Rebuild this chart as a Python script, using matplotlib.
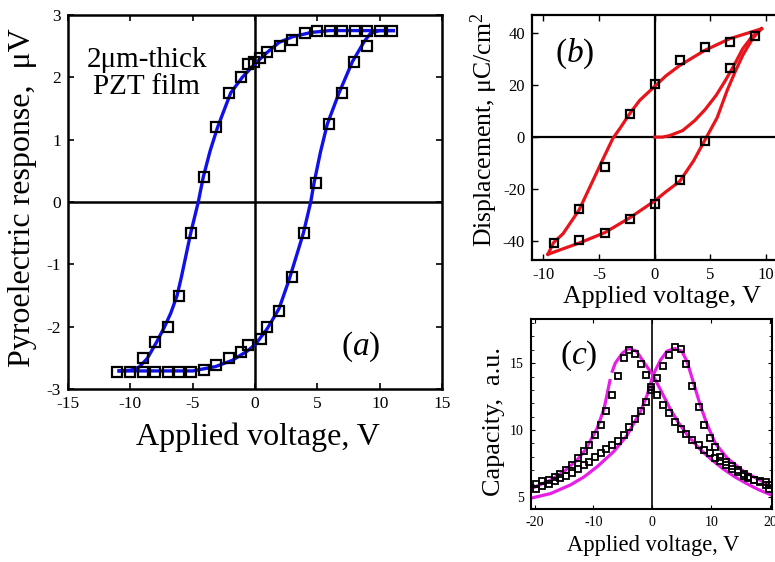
import numpy as np
import matplotlib
matplotlib.use("Agg")
import matplotlib.pyplot as plt
from matplotlib.ticker import MultipleLocator

plt.rcParams['font.family'] = ['Liberation Serif', 'DejaVu Serif']
plt.rcParams['mathtext.fontset'] = 'custom'
plt.rcParams['mathtext.rm'] = 'Liberation Serif'
plt.rcParams['mathtext.it'] = 'Liberation Serif:italic'
plt.rcParams['axes.unicode_minus'] = False

# ---- (a) pyroelectric loop ----
a_up_x = [11.0, 10.0, 9.0, 8.0, 7.0, 6.0, 5.0, 4.0, 3.0, 2.0, 1.0, 0.4, -0.1, -0.6,
          -1.1, -2.1, -3.1, -4.1, -5.1, -6.1, -7.0, -8.0, -9.0]
a_up_y = [2.74, 2.74, 2.74, 2.74, 2.74, 2.74, 2.74, 2.71, 2.60, 2.50, 2.40, 2.31, 2.25, 2.21,
          2.00, 1.75, 1.20, 0.40, -0.50, -1.50, -2.00, -2.25, -2.51]
a_dn_x = [-11.1, -10.0, -9.0, -8.0, -7.0, -6.1, -5.1, -4.1, -3.1, -2.1, -1.1, -0.6, 0.45,
          0.95, 1.95, 2.95, 3.95, 4.9, 5.95, 6.95, 7.95, 8.95]
a_dn_y = [-2.73, -2.73, -2.73, -2.73, -2.73, -2.73, -2.73, -2.69, -2.61, -2.51, -2.40, -2.30,
          -2.20, -2.00, -1.75, -1.20, -0.50, 0.30, 1.25, 1.75, 2.25, 2.50]
a_fit_up_x = [11.1, 8.0, 6.0, 4.5, 3.0, 1.93, 0.86, -0.08, -1.02, -1.95, -3.0, -3.6, -4.15,
              -4.55, -5.16, -5.9, -6.25, -6.75, -7.25, -7.9, -8.64, -9.3, -10.0, -10.9]
a_fit_up_y = [2.75, 2.75, 2.75, 2.72, 2.65, 2.56, 2.38, 2.20, 2.00, 1.75, 1.20, 0.82, 0.40,
              0.0, -0.50, -1.20, -1.50, -1.78, -2.00, -2.25, -2.51, -2.65, -2.70, -2.71]
a_fit_dn_x = [-10.9, -8.0, -5.0, -3.16, -1.82, -0.61, 0.05, 0.99, 1.93, 2.73, 3.3, 3.88,
              4.47, 4.73, 5.25, 5.8, 6.74, 7.81, 8.75, 9.28, 10.0, 11.1]
a_fit_dn_y = [-2.71, -2.71, -2.71, -2.64, -2.54, -2.39, -2.28, -2.03, -1.71, -1.25, -0.88,
              -0.50, 0.0, 0.30, 0.80, 1.25, 1.75, 2.25, 2.57, 2.71, 2.75, 2.75]

# ---- (b) D-E loop ----
b_up_x = [9.0, 6.75, 4.5, 2.25, 0.0, -2.25, -4.5, -6.75, -9.0]
b_up_y = [38.8, 36.5, 34.6, 29.7, 20.5, 8.7, -11.3, -27.5, -40.6]
b_dn_x = [-6.75, -4.5, -2.25, 0.0, 2.25, 4.5, 6.75]
b_dn_y = [-39.4, -36.7, -31.3, -25.6, -16.6, -1.5, 26.5]
b_fit_top_x = [9.57, 8.0, 6.73, 4.48, 2.24, 1.0, 0.0, -1.35, -2.24, -3.14, -3.74, -4.48,
               -5.53, -6.78, -8.22, -9.06, -9.57]
b_fit_top_y = [41.6, 39.5, 37.8, 33.3, 27.5, 23.5, 19.5, 14.1, 9.0, 3.2, -0.4, -7.0,
               -16.6, -28.0, -37.1, -40.5, -45.0]
b_fit_bot_x = [-9.57, -8.22, -6.78, -4.48, -2.24, 0.0, 1.0, 2.24, 3.5, 4.48, 5.6, 6.5,
               7.2, 7.9, 8.8, 9.57]
b_fit_bot_y = [-45.0, -42.9, -40.7, -36.7, -31.0, -24.5, -21.0, -17.0, -9.0, -1.3, 7.5, 18.0,
               25.0, 31.5, 38.0, 41.6]
b_init_x = [0.0, 0.7, 1.35, 2.5, 3.6, 4.5, 5.5, 6.3, 7.1, 7.9, 8.7, 9.57]
b_init_y = [0.0, 0.0, 0.6, 2.5, 6.4, 10.5, 16.0, 21.5, 27.5, 34.0, 38.5, 41.6]

# ---- (c) C-V butterfly ----
c_v = [-19.7, -18.7, -17.6, -16.6, -15.6, -14.6, -13.6, -12.6, -11.6, -10.7, -9.8, -8.8,
       -7.8, -6.8, -5.9, -4.9, -4.0, -2.9, -2.0, -1.0, -0.2, 0.8, 1.8, 2.8, 3.8, 4.8, 5.7,
       6.8, 7.9, 8.7, 9.8, 10.7, 11.5, 12.5, 13.5, 14.5, 15.5, 16.3, 17.3, 18.3, 19.2, 19.8]
c_down = [6.0, 6.2, 6.3, 6.5, 6.75, 7.0, 7.4, 7.9, 8.4, 8.9, 9.6, 10.4,
          11.4, 12.6, 14.05, 15.4, 16.0, 15.7, 14.9, 14.1, 13.25, 12.6, 11.9, 11.25, 10.6,
          10.1, 9.7, 9.25, 8.9, 8.5, 8.25, 7.9, 7.7, 7.4, 7.1, 6.9, 6.6, 6.4, 6.25, 6.1, 5.9, 5.6]
c_up = [5.6, 5.8, 6.0, 6.2, 6.4, 6.6, 6.8, 7.1, 7.4, 7.6, 7.95, 8.25,
        8.55, 8.9, 9.2, 9.6, 10.2, 10.8, 11.4, 12.1, 13.0, 13.9, 14.8, 15.6, 16.2,
        16.05, 14.9, 13.3, 11.75, 10.4, 9.4, 8.7, 8.0, 7.6, 7.3, 7.0, 6.75, 6.5, 6.3, 6.2, 6.1, 5.9]
c_fit1_x = [-20.7, -17.3, -15.0, -12.8, -11.4, -9.4, -8.2, -7.2, np.nan, -6.8, -6.3, -5.1,
            -4.0, -2.7, -1.5, 0.1, 1.5, 3.0, 4.5, 6.0, 8.0, 10.0, 12.0, 14.0, 16.0, 18.0, 20.7]
c_fit1_y = [5.6, 6.25, 6.9, 7.75, 8.5, 10.1, 11.6, 13.7, np.nan, 14.4, 15.0, 15.75,
            16.1, 15.9, 15.1, 14.1, 12.9, 11.6, 10.5, 9.6, 8.6, 7.8, 7.1, 6.5, 6.0, 5.55, 5.05]
c_fit2_x = [-20.7, -17.3, -13.9, -11.6, -9.4, -6.55, -4.3, -2.0, -0.9, 0.1, 1.4, 2.5, 3.8,
            5.0, 5.9, 7.0, 8.1, 9.3, 10.7, 12.7, 15.5, 18.9, 20.6]
c_fit2_y = [4.9, 5.25, 5.9, 6.5, 7.25, 8.4, 9.6, 11.4, 12.6, 14.1, 15.25, 15.9, 16.1,
            15.9, 15.1, 13.5, 11.9, 10.4, 9.0, 7.9, 6.9, 6.1, 5.6]

W, H = 775, 562
fig = plt.figure(figsize=(W / 100, H / 100), dpi=100)


def box(l, t, r, b):
    return [l / W, 1 - b / H, (r - l) / W, (b - t) / H]


def px(x, y):
    return x / W, 1 - y / H


blue = '#1010e8'
red = '#e8141c'
magenta = '#e61ee6'
sq = dict(marker='s', ls='none', mfc='none', mec='black')

# panel a
ax = fig.add_axes(box(68, 15, 442, 389))
ax.axhline(0, color='black', lw=1.8, zorder=1)
ax.axvline(0, color='black', lw=1.8, zorder=1)
ax.plot(a_fit_up_x, a_fit_up_y, color=blue, lw=2.4)
ax.plot(a_fit_dn_x, a_fit_dn_y, color=blue, lw=2.4)
ax.plot(a_up_x, a_up_y, ms=7.5, mew=1.6, **sq)
ax.plot(a_dn_x, a_dn_y, ms=7.5, mew=1.6, **sq)
ax.set_xlim(-15, 15)
ax.set_ylim(-3, 3)
ax.set_xticks([-15, -10, -5, 0, 5, 10, 15])
ax.set_yticks([-3, -2, -1, 0, 1, 2, 3])
ax.tick_params(direction='in', top=True, right=True, labelsize=12.5, width=1.2, length=4, pad=5)
for s in ax.spines.values():
    s.set_linewidth(1.8)
ax.text(-8.7, 2.06, '2μm-thick\nPZT film', fontsize=21, ha='center', va='center', linespacing=1.05)
ax.text(8.5, -2.33, '($a$)', fontsize=24, ha='center', va='center')
fig.text(*px(258, 437), 'Applied voltage, V', fontsize=23, ha='center', va='center')
fig.text(*px(23, 198), 'Pyroelectric response,  μV', fontsize=23, ha='center', va='center',
         rotation=90)

# panel b
bx = fig.add_axes(box(532, 15, 783, 260))
bx.axhline(0, color='black', lw=1.6, zorder=1)
bx.axvline(0, color='black', lw=1.6, zorder=1)
bx.plot(b_fit_top_x, b_fit_top_y, color=red, lw=2.3)
bx.plot(b_fit_bot_x, b_fit_bot_y, color=red, lw=2.3)
bx.plot(b_init_x, b_init_y, color=red, lw=2.3)
bx.plot(b_up_x, b_up_y, ms=6, mew=1.6, **sq)
bx.plot(b_dn_x, b_dn_y, ms=6, mew=1.6, **sq)
bx.set_xlim(-11, 11.5)
bx.set_ylim(-47.2, 46.9)
bx.set_xticks([-10, -5, 0, 5, 10])
bx.set_yticks([-40, -20, 0, 20, 40])
bx.tick_params(direction='in', top=True, right=True, labelsize=12, width=1.0, length=4, pad=5)
for s in bx.spines.values():
    s.set_linewidth(1.6)
bx.text(-7.2, 32.1, '($b$)', fontsize=24, ha='center', va='center')
fig.text(*px(662, 297), 'Applied voltage, V', fontsize=18.7, ha='center', va='center')
fig.text(*px(484, 130), 'Displacement, μC/cm$^2$', fontsize=18.5, ha='center', va='center',
         rotation=90)

# panel c
cx = fig.add_axes(box(531, 319, 772, 509))
cx.axvline(0, color='black', lw=1.2, zorder=1)
cx.plot(c_fit1_x, c_fit1_y, color=magenta, lw=2.3)
cx.plot(c_fit2_x, c_fit2_y, color=magenta, lw=2.3)
cx.plot(c_v, c_down, ms=5, mew=1.3, **sq)
cx.plot(c_v, c_up, ms=5, mew=1.3, **sq)
cx.set_xlim(-20.6, 20.3)
cx.set_ylim(4.1, 18.3)
cx.set_xticks([-20, -10, 0, 10, 20])
cx.set_yticks([5, 10, 15])
cx.yaxis.set_minor_locator(MultipleLocator(1))
cx.tick_params(direction='in', top=True, right=True, labelsize=10, width=0.8, length=3, pad=5)
cx.tick_params(which='minor', direction='in', right=True, width=0.6, length=2)
for s in cx.spines.values():
    s.set_linewidth(1.5)
cx.text(-12.5, 15.55, '($c$)', fontsize=24, ha='center', va='center')
fig.text(*px(653, 545), 'Applied voltage, V', fontsize=16.3, ha='center', va='center')
fig.text(*px(494, 422), 'Capacity,  a.u.', fontsize=18.8, ha='center', va='center',
         rotation=90)

fig.savefig('out.png', dpi=100)
